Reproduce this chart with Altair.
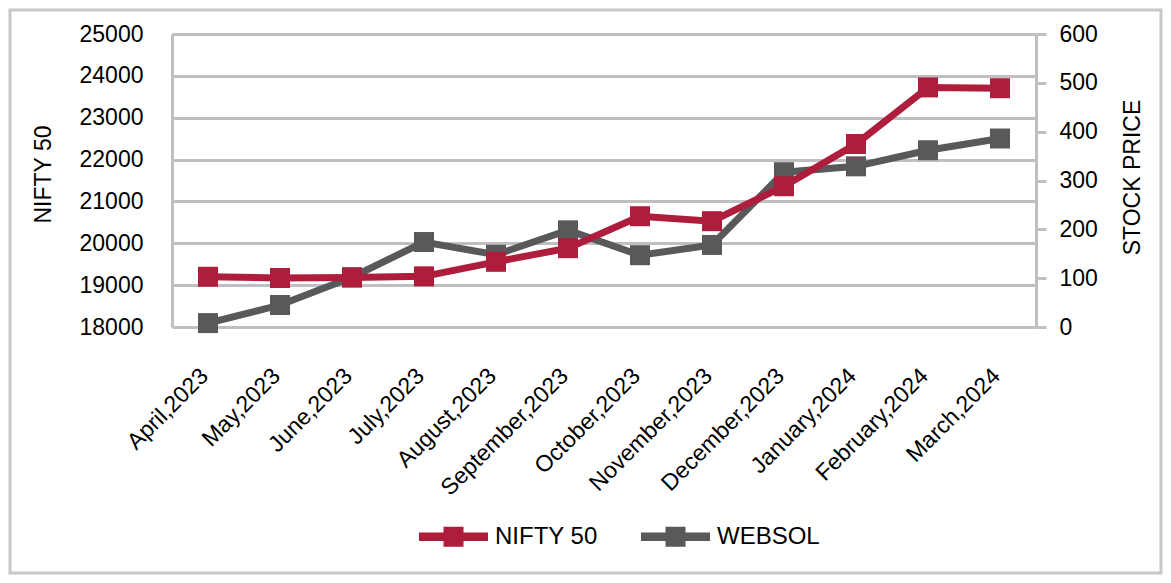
import altair as alt
import pandas as pd

months = ["April,2023", "May,2023", "June,2023", "July,2023", "August,2023",
          "September,2023", "October,2023", "November,2023", "December,2023",
          "January,2024", "February,2024", "March,2024"]
nifty = [19200, 19170, 19180, 19210, 19557, 19884, 20647, 20528, 21363, 22372, 23724, 23705]
websol = [8, 45, 102, 174, 148, 198, 147, 168, 317, 329, 362, 386]
series_names = ["NIFTY 50", "WEBSOL"]
nifty_ticks = [18000, 19000, 20000, 21000, 22000, 23000, 24000, 25000]
price_ticks = [0, 100, 200, 300, 400, 500, 600]

RED = "#AE1E3C"
GRAY = "#58595B"
GRID = "#BFBFC1"
FONT = "Liberation Sans"

df_n = pd.DataFrame({"month": months, "value": nifty, "series": series_names[0]})
df_w = pd.DataFrame({"month": months, "value": websol, "series": series_names[1]})

x_enc = alt.X("month:N", sort=months, title=None,
              scale=alt.Scale(type="point", padding=0.5),
              axis=alt.Axis(labelAngle=-45, labelAlign="right", labelBaseline="middle",
                            labelPadding=45, labelOffset=-4, ticks=False, tickSize=0,
                            domain=False, labelFontSize=23, labelFont=FONT,
                            labelColor="#000000", grid=False))

color_enc = alt.Color("series:N",
                      scale=alt.Scale(domain=series_names, range=[RED, GRAY]),
                      legend=alt.Legend(title=None, orient="none", direction="horizontal",
                                        legendX=247, legendY=468,
                                        symbolType="M-1,-0.12 H1 V0.12 H-1 Z M-0.29,-0.29 H0.29 V0.29 H-0.29 Z",
                                        symbolSize=4761, symbolStrokeWidth=0,
                                        labelFontSize=24, labelFont=FONT, labelColor="#000000",
                                        labelOffset=7, columnPadding=43, padding=0))

gray_line = alt.Chart(df_w).mark_line(
    strokeWidth=7, point=alt.OverlayMarkDef(shape="square", size=400, filled=True, opacity=1)
).encode(
    x=x_enc,
    y=alt.Y("value:Q", title="STOCK PRICE",
            scale=alt.Scale(domain=[0, 600], nice=False, zero=False),
            axis=alt.Axis(orient="right", values=price_ticks, grid=False, format="d",
                          domainColor=GRID, domainWidth=3, tickColor=GRID, tickWidth=3,
                          tickSize=10, labelPadding=13, labelFontSize=23, labelFont=FONT,
                          labelColor="#000000", titleFontSize=23, titleFont=FONT,
                          titleFontWeight="normal", titleColor="#000000", titleAngle=270,
                          titleX=96, titleY=143, titleAlign="center", titleBaseline="middle")),
    color=color_enc,
)

red_line = alt.Chart(df_n).mark_line(
    strokeWidth=7, point=alt.OverlayMarkDef(shape="square", size=400, filled=True, opacity=1)
).encode(
    x=x_enc,
    y=alt.Y("value:Q", title="NIFTY 50",
            scale=alt.Scale(domain=[18000, 25000], nice=False, zero=False),
            axis=alt.Axis(orient="left", values=nifty_ticks, grid=True, gridColor=GRID,
                          format="d", gridWidth=3, domainColor=GRID, domainWidth=3,
                          ticks=False, tickSize=0, labelPadding=29, labelFontSize=23,
                          labelFont=FONT, labelColor="#000000", titleFontSize=23,
                          titleFont=FONT, titleFontWeight="normal", titleColor="#000000",
                          titleAngle=270, titleX=-129, titleY=140, titleAlign="center",
                          titleBaseline="middle")),
    color=color_enc,
)

frame = alt.Chart(pd.DataFrame({"k": [0]})).mark_rect(
    fill=None, stroke="#C8C8C8", strokeWidth=3
).encode(
    x=alt.value(-162), x2=alt.value(989), y=alt.value(-24), y2=alt.value(539)
)

chart = alt.layer(gray_line, red_line, frame).resolve_scale(
    y="independent"
).properties(
    width=864, height=293,
    autosize=alt.AutoSizeParams(type="none"),
    padding={"left": 164, "top": 26, "right": 127, "bottom": 248},
    background="white",
).configure_view(stroke=None)

chart.save("out.html", embed_options={"renderer": "svg", "actions": False})
